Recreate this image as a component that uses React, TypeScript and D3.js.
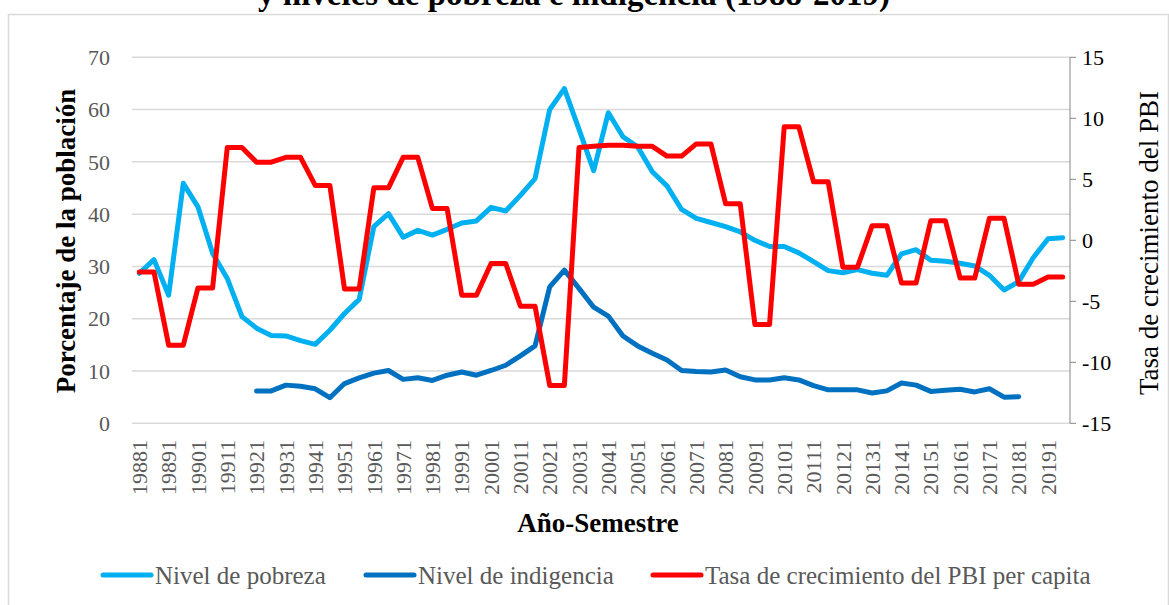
import React from "react";
import * as d3 from "d3";

const categories = [
  "19881","19882","19891","19892","19901","19902","19911","19912","19921","19922",
  "19931","19932","19941","19942","19951","19952","19961","19962","19971","19972",
  "19981","19982","19991","19992","20001","20002","20011","20012","20021","20022",
  "20031","20032","20041","20042","20051","20052","20061","20062","20071","20072",
  "20081","20082","20091","20092","20101","20102","20111","20112","20121","20122",
  "20131","20132","20141","20142","20151","20152","20161","20162","20171","20172",
  "20181","20182","20191","20192"
];

const tickLabels = [
  "19881","19891","19901","19911","19921","19931","19941","19951","19961","19971",
  "19981","19991","20001","20011","20021","20031","20041","20051","20061","20071",
  "20081","20091","20101","20111","20121","20131","20141","20151","20161","20171",
  "20181","20191"
];

const pobreza: (number | null)[] = [
  28.7, 31.3, 24.5, 45.9, 41.4, 32.5, 27.7, 20.4, 18.2, 16.8,
  16.7, 15.8, 15.1, 17.8, 21.0, 23.7, 37.6, 40.1, 35.6, 36.9,
  36.0, 37.1, 38.3, 38.7, 41.3, 40.6, 43.6, 46.8, 60.0, 64.0,
  56.2, 48.3, 59.4, 54.8, 52.9, 48.1, 45.4, 40.9, 39.2, 38.4,
  37.6, 36.6, 35.0, 33.8, 33.8, 32.6, 30.9, 29.2, 28.8, 29.4,
  28.7, 28.3, 32.4, 33.2, 31.2, 31.0, 30.6, 30.1, 28.3, 25.5,
  27.1, 31.7, 35.3, 35.5
];

const indigencia: (number | null)[] = [
  null, null, null, null, null, null, null, null, 6.2, 6.2,
  7.3, 7.1, 6.6, 4.9, 7.6, 8.7, 9.6, 10.1, 8.4, 8.7,
  8.2, 9.2, 9.8, 9.2, 10.1, 11.1, 12.9, 14.8, 26.1, 29.3,
  25.8, 22.2, 20.5, 16.7, 14.8, 13.4, 12.1, 10.1, 9.9, 9.8,
  10.2, 8.9, 8.3, 8.3, 8.7, 8.3, 7.2, 6.4, 6.4, 6.4,
  5.8, 6.2, 7.7, 7.3, 6.1, 6.3, 6.5, 6.0, 6.6, 5.0,
  5.1, null, null, null
];

const pbi: (number | null)[] = [
  -2.6, -2.6, -8.6, -8.6, -3.9, -3.9, 7.6, 7.6, 6.4, 6.4,
  6.8, 6.8, 4.5, 4.5, -4.0, -4.0, 4.3, 4.3, 6.8, 6.8,
  2.6, 2.6, -4.5, -4.5, -1.9, -1.9, -5.4, -5.4, -11.9, -11.9,
  7.6, 7.7, 7.8, 7.8, 7.7, 7.7, 6.9, 6.9, 7.9, 7.9,
  3.0, 3.0, -6.9, -6.9, 9.3, 9.3, 4.8, 4.8, -2.2, -2.2,
  1.2, 1.2, -3.5, -3.5, 1.6, 1.6, -3.1, -3.1, 1.8, 1.8,
  -3.6, -3.6, -3.0, -3.0
];

const leftTicks = [0, 10, 20, 30, 40, 50, 60, 70];
const rightTicks = [-15, -10, -5, 0, 5, 10, 15];

const seriesNames = ["Nivel de pobreza", "Nivel de indigencia", "Tasa de crecimiento del PBI per capita"];
const seriesColors = ["#00B0F0", "#0070C0", "#FF0000"];

const W = 1169, H = 605;
const plot = { left: 132, right: 1070, top: 57.3, bottom: 423.3 };
const FONT = "'Liberation Serif', 'Times New Roman', serif";

export default function App() {
  const x = d3.scaleBand<string>().domain(categories).range([plot.left, plot.right]);
  const cx = (c: string) => (x(c) as number) + x.bandwidth() / 2;
  const yL = d3.scaleLinear().domain([0, 70]).range([plot.bottom, plot.top]);
  const yR = d3.scaleLinear().domain([-15, 15]).range([plot.bottom, plot.top]);

  const mkLine = (scale: d3.ScaleLinear<number, number>) =>
    d3.line<number | null>()
      .defined((d) => d !== null)
      .x((_, i) => cx(categories[i]))
      .y((d) => scale(d as number));

  const lines = [
    { data: pobreza, scale: yL, color: seriesColors[0] },
    { data: indigencia, scale: yL, color: seriesColors[1] },
    { data: pbi, scale: yR, color: seriesColors[2] },
  ];

  const legendItems = [
    { x: 100, name: seriesNames[0], color: seriesColors[0] },
    { x: 363, name: seriesNames[1], color: seriesColors[1] },
    { x: 650, name: seriesNames[2], color: seriesColors[2] },
  ];

  return (
    <svg width={W} height={H} style={{ position: "absolute", left: 0, top: 0, background: "#fff" }} fontFamily={FONT}>
      <rect x={0} y={0} width={W} height={H} fill="#fff" />
      <text x={574} y={5} textAnchor="middle" fontSize={33} fontWeight="bold" fill="#000">
        y niveles de pobreza e indigencia (1988-2019)
      </text>
      <rect x={8.5} y={14.5} width={1160} height={600} fill="none" stroke="#D9D9D9" strokeWidth={1.5} />

      {leftTicks.map((t) => (
        <line key={"g" + t} x1={plot.left} x2={plot.right} y1={yL(t)} y2={yL(t)} stroke="#D9D9D9" strokeWidth={1.5} />
      ))}
      {leftTicks.map((t) => (
        <text key={"l" + t} x={110} y={yL(t)} dy="0.35em" textAnchor="end" fontSize={22} fill="#595959">{t}</text>
      ))}

      <line x1={plot.right} x2={plot.right} y1={plot.top} y2={plot.bottom} stroke="#868686" strokeWidth={1} />
      {rightTicks.map((t) => (
        <g key={"r" + t}>
          <line x1={plot.right} x2={plot.right + 6} y1={yR(t)} y2={yR(t)} stroke="#868686" strokeWidth={1} />
          <text x={1082} y={yR(t)} dy="0.35em" textAnchor="start" fontSize={22} fill="#000">{t}</text>
        </g>
      ))}

      {tickLabels.map((t) => (
        <text key={"x" + t} transform={`translate(${cx(t)},440) rotate(-90)`} dy="0.35em" textAnchor="end" fontSize={22} fill="#595959">{t}</text>
      ))}

      {lines.map((l, i) => (
        <path key={"p" + i} d={mkLine(l.scale)(l.data) || ""} fill="none" stroke={l.color} strokeWidth={5} strokeLinejoin="round" strokeLinecap="round" />
      ))}

      <text x={598} y={532} textAnchor="middle" fontSize={27} fontWeight="bold" fill="#000">Año-Semestre</text>
      <text transform="translate(66,241) rotate(-90)" dy="0.35em" textAnchor="middle" fontSize={27} fontWeight="bold" fill="#000">Porcentaje de la población</text>
      <text transform="translate(1149,243) rotate(-90)" dy="0.35em" textAnchor="middle" fontSize={27} fill="#000">Tasa de crecimiento del PBI</text>

      {legendItems.map((it) => (
        <g key={it.name}>
          <line x1={it.x + 3} x2={it.x + 51} y1={575} y2={575} stroke={it.color} strokeWidth={5} strokeLinecap="round" />
          <text x={it.x + 55} y={575} dy="0.35em" fontSize={25} fill="#595959">{it.name}</text>
        </g>
      ))}
    </svg>
  );
}
